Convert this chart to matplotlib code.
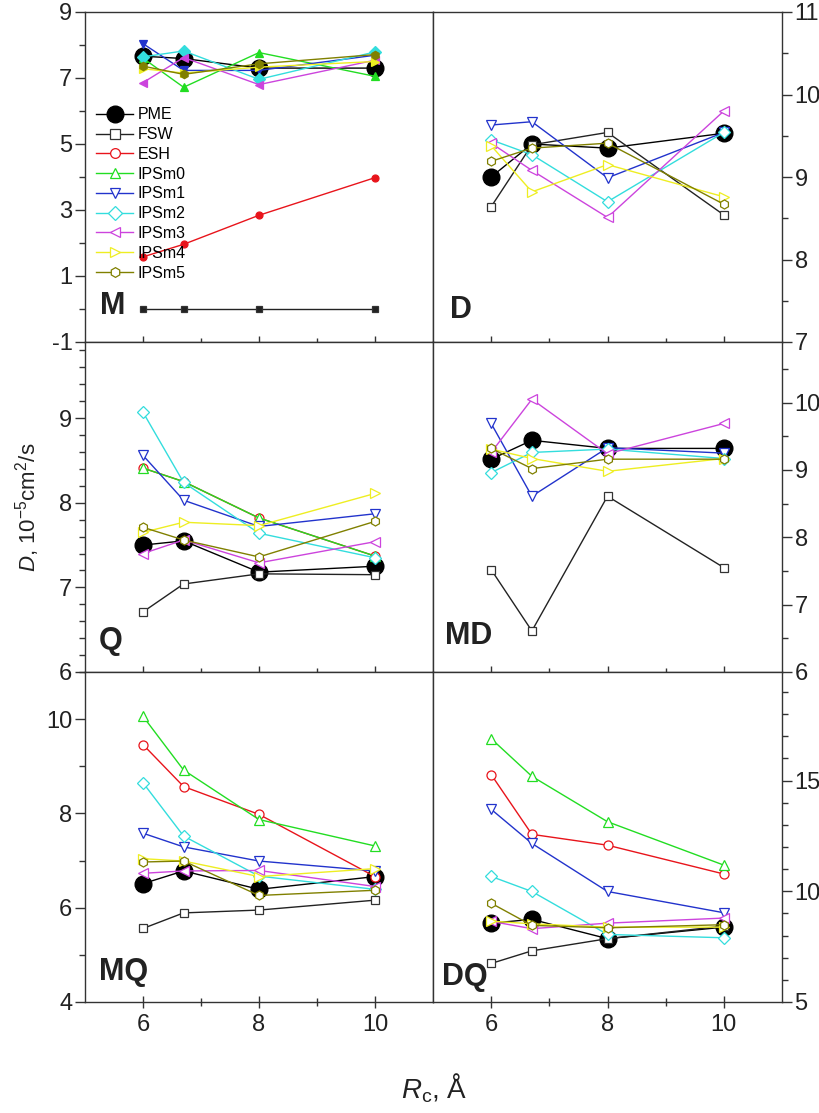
import numpy as np
import matplotlib
matplotlib.use('Agg')
from matplotlib import pyplot as plt
from matplotlib.ticker import MultipleLocator, FixedLocator
from matplotlib.lines import Line2D

plt.rcParams['font.family'] = ['Liberation Sans', 'DejaVu Sans']
plt.rcParams['mathtext.fontset'] = 'custom'
plt.rcParams['mathtext.rm'] = 'Liberation Sans'
plt.rcParams['mathtext.it'] = 'Liberation Sans:italic'
plt.rcParams['axes.unicode_minus'] = False

# cutoff radii
rc = [6, 6.7, 8, 10]

series = ['PME', 'FSW', 'ESH', 'IPSm0', 'IPSm1', 'IPSm2', 'IPSm3', 'IPSm4', 'IPSm5']
colors = ['black', '#222222', '#e8141b', '#22dd22', '#2233cc', '#33dddd', '#cc44dd', '#eeee22', '#808000']
markers = ['o', 's', 'o', '^', 'v', 'D', '<', '>', 'h']

nan = np.nan

# diffusion coefficients, 10^-5 cm^2/s
data_M = {
    'PME':   [7.66, 7.59, 7.30, 7.30],
    'FSW':   [0.0, 0.0, 0.0, 0.0],
    'ESH':   [1.58, 1.96, 2.84, 3.98],
    'IPSm0': [7.60, 6.72, 7.77, 7.05],
    'IPSm1': [8.04, 7.23, 7.23, 7.69],
    'IPSm2': [7.64, 7.82, 6.96, 7.79],
    'IPSm3': [6.86, 7.62, 6.80, 7.54],
    'IPSm4': [7.28, 7.15, 7.33, 7.50],
    'IPSm5': [7.36, 7.11, 7.43, 7.71],
}
data_D = {
    'PME':   [9.00, 9.40, 9.35, 9.53],
    'FSW':   [8.64, 9.39, 9.54, 8.54],
    'ESH':   [nan, nan, nan, nan],
    'IPSm0': [nan, nan, nan, nan],
    'IPSm1': [9.63, 9.67, 8.99, 9.54],
    'IPSm2': [9.45, 9.27, 8.70, 9.54],
    'IPSm3': [9.41, 9.08, 8.51, 9.80],
    'IPSm4': [9.38, 8.82, 9.15, 8.76],
    'IPSm5': [9.19, 9.35, 9.41, 8.67],
}
data_Q = {
    'PME':   [7.50, 7.55, 7.18, 7.25],
    'FSW':   [6.71, 7.04, 7.16, 7.15],
    'ESH':   [8.41, 8.25, 7.82, 7.37],
    'IPSm0': [8.41, 8.25, 7.82, 7.37],
    'IPSm1': [8.56, 8.03, 7.72, 7.87],
    'IPSm2': [9.07, 8.24, 7.64, 7.35],
    'IPSm3': [7.40, 7.56, 7.29, 7.54],
    'IPSm4': [7.65, 7.77, 7.73, 8.11],
    'IPSm5': [7.71, 7.56, 7.36, 7.78],
}
data_MD = {
    'PME':   [9.16, 9.44, 9.32, 9.32],
    'FSW':   [7.52, 6.61, 8.61, 7.55],
    'ESH':   [nan, nan, nan, nan],
    'IPSm0': [nan, nan, nan, nan],
    'IPSm1': [9.69, 8.61, 9.33, 9.25],
    'IPSm2': [8.96, 9.26, 9.31, 9.17],
    'IPSm3': [9.26, 10.05, 9.24, 9.69],
    'IPSm4': [9.31, 9.17, 8.98, 9.17],
    'IPSm5': [9.32, 9.02, 9.16, 9.16],
}
data_MQ = {
    'PME':   [6.51, 6.78, 6.39, 6.66],
    'FSW':   [5.56, 5.89, 5.95, 6.16],
    'ESH':   [9.46, 8.57, 7.98, 6.66],
    'IPSm0': [10.06, 8.92, 7.87, 7.31],
    'IPSm1': [7.58, 7.29, 6.99, 6.78],
    'IPSm2': [8.65, 7.52, 6.67, 6.39],
    'IPSm3': [6.73, 6.78, 6.79, 6.45],
    'IPSm4': [7.04, 6.99, 6.66, 6.83],
    'IPSm5': [6.97, 6.99, 6.26, 6.37],
}
data_DQ = {
    'PME':   [8.56, 8.73, 7.86, 8.38],
    'FSW':   [6.74, 7.31, 7.86, 8.43],
    'ESH':   [15.27, 12.57, 12.08, 10.78],
    'IPSm0': [16.89, 15.19, 13.14, 11.18],
    'IPSm1': [13.70, 12.16, 9.99, 9.03],
    'IPSm2': [10.67, 9.99, 8.05, 7.90],
    'IPSm3': [8.64, 8.31, 8.56, 8.79],
    'IPSm4': [8.65, 8.53, 8.38, 8.38],
    'IPSm5': [9.46, 8.46, 8.35, 8.49],
}

W, H = 819, 1113
fig = plt.figure(figsize=(W / 100, H / 100), dpi=100)

# panel boxes in pixels: left, top
xl, xr, pw = 85, 433, 348
rows = [12, 342, 672]
ph = 330

def make_ax(x0, ytop, width):
    return fig.add_axes([x0 / W, 1 - (ytop + ph) / H, width / W, ph / H])

panels = [
    # name, data, col, row, ylim, major, minor, label pos
    ('M', data_M, 0, 0, (-1, 9), [-1, 1, 3, 5, 7, 9], [0, 2, 4, 6, 8], (0.043, 0.065)),
    ('D', data_D, 1, 0, (7, 11), MultipleLocator(1), MultipleLocator(0.5), (0.05, 0.05)),
    ('Q', data_Q, 0, 1, (6, 9.9), MultipleLocator(1), MultipleLocator(0.2), (0.04, 0.05)),
    ('MD', data_MD, 1, 1, (6, 10.9), MultipleLocator(1), MultipleLocator(0.5), (0.035, 0.065)),
    ('MQ', data_MQ, 0, 2, (4, 11), MultipleLocator(2), MultipleLocator(1), (0.04, 0.045)),
    ('DQ', data_DQ, 1, 2, (5, 19.9), MultipleLocator(5), MultipleLocator(1), (0.025, 0.03)),
]

axes = {}
for name, data, col, row, ylim, major, minor, lpos in panels:
    if col == 0:
        ax = make_ax(xl, rows[row], pw)
    else:
        ax = make_ax(xr, rows[row], 349)
    axes[name] = ax

    for s, c, m in zip(series, colors, markers):
        y = data[s]
        if s == 'PME':
            ax.plot(rc, y, color='black', lw=1.0, marker='o', ms=12,
                    mfc='black', mec='black', label=s, zorder=2)
        else:
            if name == 'M':
                face = c
                ms = 6 if s not in ('FSW', 'ESH') else 5
            else:
                face = 'white'
                ms = 6.5
            if s == 'FSW':
                ms = ms - 0.5
            ax.plot(rc, y, color=c, lw=1.0, marker=m, ms=ms,
                    mfc=face, mec=c if s != 'FSW' else '#333333',
                    mew=0.9, label=s, zorder=3)

    ax.set_xlim(5, 11)
    ax.set_ylim(*ylim)
    ax.xaxis.set_major_locator(FixedLocator([6, 8, 10]))
    ax.xaxis.set_minor_locator(FixedLocator([7, 9]))
    if isinstance(major, list):
        ax.yaxis.set_major_locator(FixedLocator(major))
        ax.yaxis.set_minor_locator(FixedLocator(minor))
    else:
        ax.yaxis.set_major_locator(major)
        ax.yaxis.set_minor_locator(minor)

    ax.tick_params(axis='x', which='major', direction='inout', length=9, width=1,
                   labelsize=17, colors='#333333', labelcolor='#222222',
                   labelbottom=(row == 2), pad=4)
    ax.tick_params(axis='x', which='minor', direction='inout', length=6, width=1,
                   colors='#333333')
    if col == 0:
        ax.tick_params(axis='y', which='both', left=True, right=False,
                       labelleft=True, labelright=False)
    else:
        ax.tick_params(axis='y', which='both', left=False, right=True,
                       labelleft=False, labelright=True)
    ax.tick_params(axis='y', which='major', direction='out', length=7, width=1,
                   labelsize=17, colors='#333333', labelcolor='#222222', pad=2)
    ax.tick_params(axis='y', which='minor', direction='out', length=4, width=1,
                   colors='#333333')
    for sp in ax.spines.values():
        sp.set_color('#333333')
        sp.set_linewidth(1.0)

    ax.text(lpos[0], lpos[1], name, transform=ax.transAxes, fontsize=22,
            fontweight='bold', color='#222222', ha='left', va='bottom')

# legend in the M panel, open markers
handles = []
for s, c, m in zip(series, colors, markers):
    if s == 'PME':
        handles.append(Line2D([], [], color='black', lw=1.0, marker='o', ms=12,
                              mfc='black', mec='black'))
    else:
        handles.append(Line2D([], [], color=c, lw=1.0, marker=m, ms=7,
                              mfc='white', mec=c if s != 'FSW' else '#333333', mew=0.9))
axes['M'].legend(handles, series, loc='upper left', bbox_to_anchor=(0.0, 0.745),
                 frameon=False, fontsize=11.5, handlelength=2.3, handletextpad=0.3,
                 labelspacing=0.3, borderaxespad=0.3)

fig.text(28 / W, 1 - 507 / H, r'$D$, 10$^{-5}$cm$^2$/s', rotation=90,
         ha='center', va='center', fontsize=16, color='#222222')
fig.text(434 / W, 1 - 1088 / H, r'$R_{\rm c}$, Å', ha='center', va='center',
         fontsize=20, color='#222222')

plt.savefig('out.png', dpi=100)
